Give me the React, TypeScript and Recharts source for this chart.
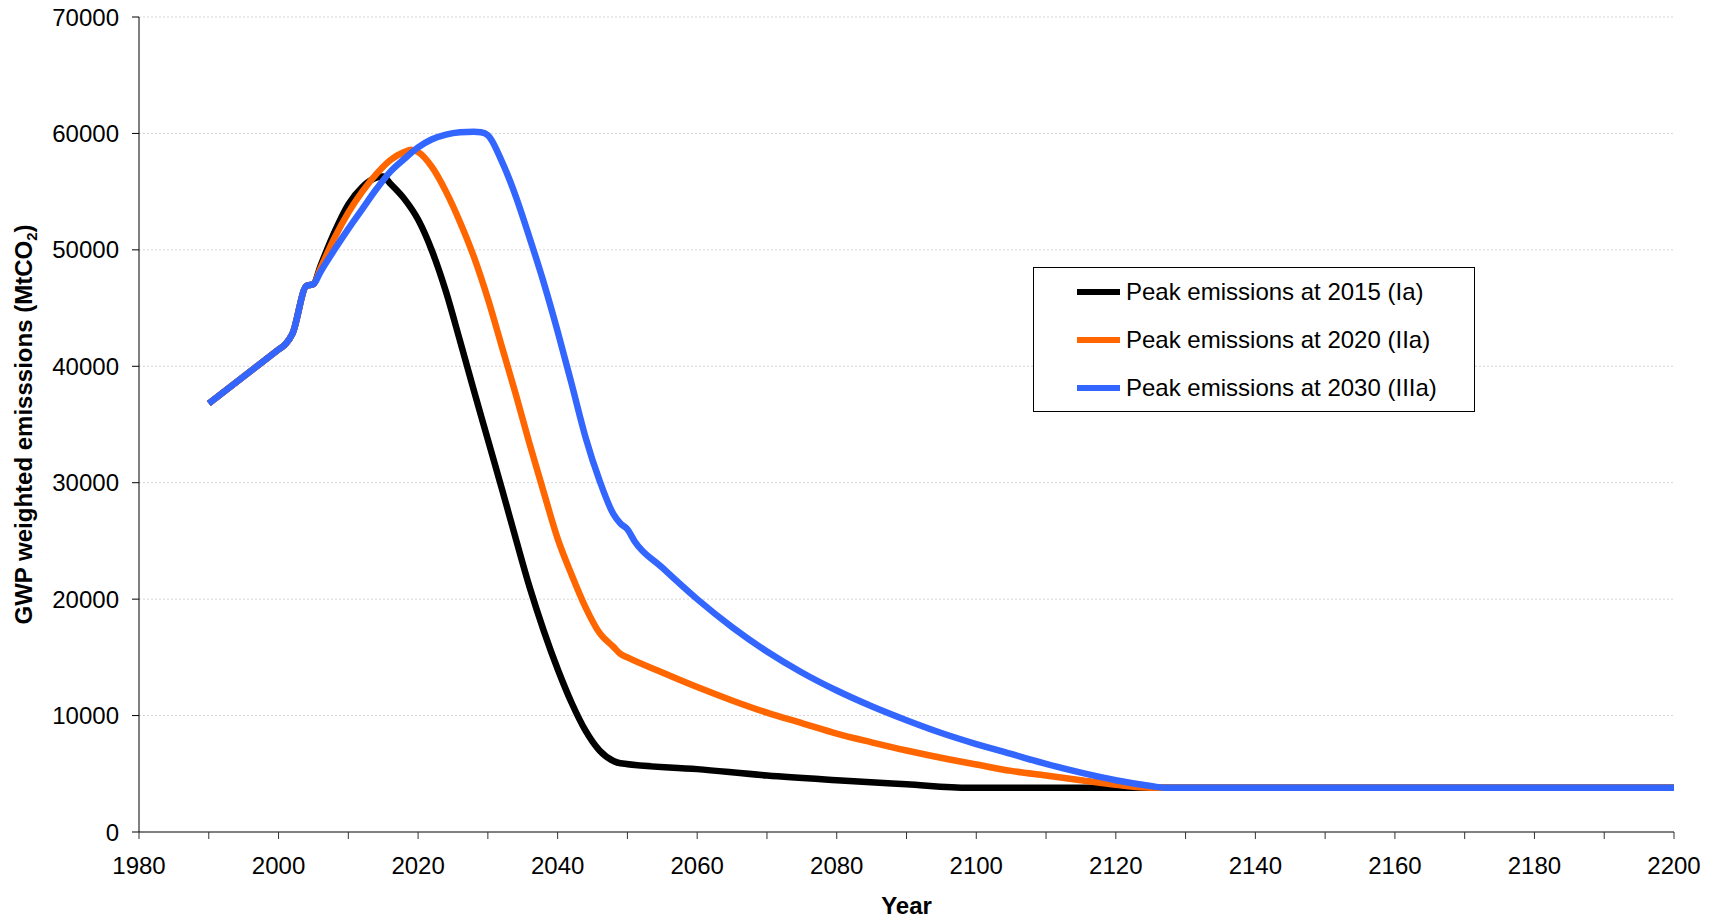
import { LineChart, Line, XAxis, YAxis, CartesianGrid, Legend, Label } from 'recharts'

// values (MtCO2-eq per year)
const historyYears = [1990, 1995, 2000, 2001, 2002, 2004, 2005]
const historyValues = [36800, 39120, 41440, 41900, 42800, 46900, 47050]

const peak2015Years = [2006, 2008, 2010, 2012, 2014, 2015, 2016, 2018, 2020, 2022, 2024, 2026, 2028, 2030, 2032, 2034, 2036, 2038, 2040, 2042, 2044, 2046, 2048, 2049, 2060, 2070, 2080, 2090, 2099, 2200]
const peak2015Values = [48600, 51500, 53900, 55400, 56200, 56300, 55700, 54400, 52600, 49900, 46400, 42200, 37900, 33700, 29500, 25200, 21000, 17300, 14000, 11100, 8700, 7000, 6100, 5900, 5400, 4850, 4450, 4100, 3800, 3800]

const peak2020Years = [2006, 2008, 2010, 2012, 2014, 2016, 2018, 2019, 2020, 2022, 2024, 2026, 2028, 2030, 2032, 2034, 2036, 2038, 2040, 2042, 2044, 2046, 2048, 2049, 2050, 2055, 2060, 2065, 2070, 2075, 2080, 2085, 2090, 2096, 2100, 2105, 2110, 2115, 2120, 2125, 2200]
const peak2020Values = [48400, 51000, 53200, 55000, 56500, 57700, 58400, 58600, 58400, 57100, 55000, 52400, 49400, 45800, 41700, 37600, 33300, 29200, 25200, 22100, 19300, 17100, 15900, 15300, 15000, 13700, 12450, 11300, 10250, 9350, 8450, 7700, 7000, 6250, 5800, 5250, 4850, 4450, 4050, 3800, 3800]

const peak2030Years = [2006, 2008, 2010, 2012, 2014, 2016, 2018, 2020, 2022, 2024, 2026, 2028, 2029, 2030, 2032, 2034, 2036, 2038, 2040, 2042, 2044, 2046, 2048, 2049, 2050, 2051, 2055, 2060, 2065, 2070, 2075, 2080, 2085, 2090, 2095, 2100, 2105, 2110, 2115, 2120, 2125, 2127, 2200]
const peak2030Values = [48100, 50000, 51800, 53500, 55200, 56700, 57800, 58800, 59500, 59900, 60100, 60150, 60100, 59850, 57600, 54600, 51000, 47200, 43000, 38500, 33900, 30200, 27300, 26500, 26000, 25000, 22700, 20000, 17600, 15500, 13700, 12150, 10800, 9600, 8500, 7550, 6700, 5850, 5100, 4450, 3950, 3800, 3800]

const xTicks = [1980, 1990, 2000, 2010, 2020, 2030, 2040, 2050, 2060, 2070, 2080, 2090, 2100, 2110, 2120, 2130, 2140, 2150, 2160, 2170, 2180, 2190, 2200]
const yTicks = [0, 10000, 20000, 30000, 40000, 50000, 60000, 70000]

const toRows = (years: number[], values: number[]) => {
  const all = [...historyYears, ...years]
  const vals = [...historyValues, ...values]
  return all.map((year, i) => ({ year, value: vals[i] }))
}

const series = [
  { name: 'Peak emissions at 2015 (Ia)', color: '#000000', data: toRows(peak2015Years, peak2015Values) },
  { name: 'Peak emissions at 2020 (IIa)', color: '#FF6600', data: toRows(peak2020Years, peak2020Values) },
  { name: 'Peak emissions at 2030 (IIIa)', color: '#3366FF', data: toRows(peak2030Years, peak2030Values) },
]

const FONT = '"Liberation Sans", Arial, sans-serif'

const renderLegend = () => (
  <div
    style={{
      width: 442,
      height: 145,
      boxSizing: 'border-box',
      border: '1px solid #000',
      background: '#fff',
      fontFamily: FONT,
      fontSize: 24,
      color: '#000',
    }}
  >
    {series.map((s) => (
      <div key={s.name} style={{ height: 48, display: 'flex', alignItems: 'center' }}>
        <span style={{ width: 43, height: 6, background: s.color, marginLeft: 43, marginRight: 6 }} />
        <span>{s.name}</span>
      </div>
    ))}
  </div>
)

const YTitle = ({ viewBox }: any) => {
  const cx = (viewBox?.x ?? 0) + 32
  const cy = (viewBox?.y ?? 17) + (viewBox?.height ?? 815) / 2
  return (
    <text
      transform={`translate(${cx}, ${cy}) rotate(-90)`}
      textAnchor="middle"
      fontFamily={FONT}
      fontWeight="bold"
      fontSize={24}
      fill="#000"
    >
      GWP weighted emisssions (MtCO
      <tspan fontSize={15} dy={5}>2</tspan>
      <tspan dy={-5}>)</tspan>
    </text>
  )
}

export default function App() {
  return (
    <div style={{ position: 'absolute', left: 0, top: 0, width: 1714, height: 918, background: '#fff', fontFamily: FONT }}>
      <LineChart width={1714} height={918} margin={{ top: 17, right: 40, bottom: 0, left: 0 }}>
        <CartesianGrid vertical={false} stroke="#d6d6d6" strokeDasharray="2 2" />
        <XAxis
          dataKey="year"
          type="number"
          domain={[1980, 2200]}
          ticks={xTicks}
          interval={0}
          height={86}
          tickSize={7}
          tickMargin={18}
          tickFormatter={(v: number) => (v % 20 === 0 ? String(v) : '')}
          axisLine={{ stroke: '#808080', strokeWidth: 2 }}
          tickLine={{ stroke: '#333' }}
          tick={{ fill: '#000', fontSize: 24, fontFamily: FONT }}
        >
          <Label value="Year" position="insideBottom" offset={4} fontWeight="bold" fontSize={24} fill="#000" fontFamily={FONT} />
        </XAxis>
        <YAxis
          type="number"
          domain={[0, 70000]}
          ticks={yTicks}
          interval={0}
          width={139}
          tickSize={7}
          tickMargin={13}
          axisLine={{ stroke: '#000' }}
          tickLine={{ stroke: '#000' }}
          tick={{ fill: '#000', fontSize: 24, fontFamily: FONT }}
        >
          <Label content={<YTitle />} />
        </YAxis>
        <Legend
          content={renderLegend}
          layout="horizontal"
          verticalAlign="middle"
          align="center"
          wrapperStyle={{ left: 1033, top: 267, width: 442, height: 145 }}
        />
        {series.map((s) => (
          <Line
            key={s.name}
            data={s.data}
            dataKey="value"
            name={s.name}
            type="monotone"
            stroke={s.color}
            strokeWidth={6.5}
            dot={false}
            activeDot={false}
            isAnimationActive={false}
          />
        ))}
      </LineChart>
    </div>
  )
}
